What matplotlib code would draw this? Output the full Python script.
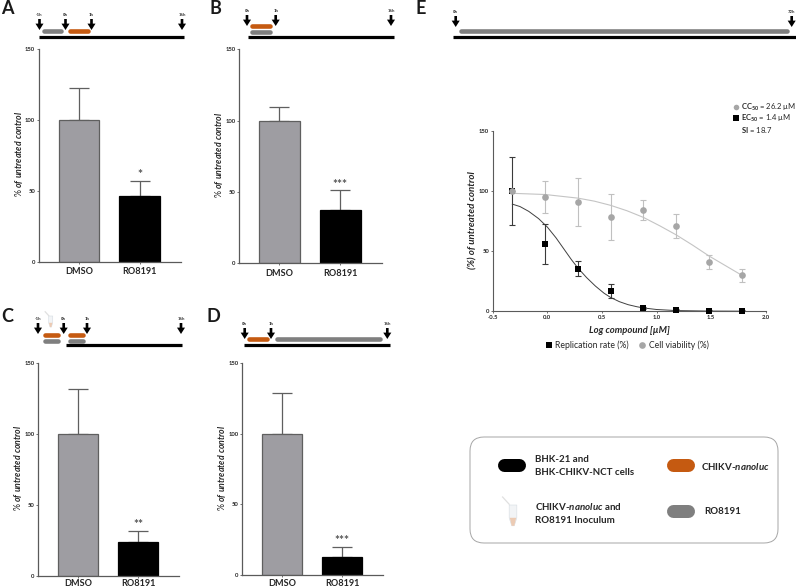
import numpy as np
from matplotlib import pyplot as plt
from matplotlib.lines import Line2D
from matplotlib.patches import FancyBboxPatch, Polygon

W = 796
H = 588

plt.rcParams['font.family'] = ['Lato', 'DejaVu Sans']
plt.rcParams['mathtext.fontset'] = 'custom'
plt.rcParams['mathtext.rm'] = 'Lato:bold'
plt.rcParams['mathtext.bf'] = 'Lato:bold'
plt.rcParams['mathtext.it'] = 'Lato:italic:bold'

# bar panels
groups = ['DMSO', 'RO8191']
bar_ticks = [0, 50, 100, 150]
values_a = [100, 46.5]
upper_a = [123, 57]
values_b = [100, 37.5]
upper_b = [109.5, 51]
values_c = [100, 24.5]
upper_c = [132, 32]
values_d = [100, 13]
upper_d = [129, 20]

# dose response panel
log_dose = [-0.32, -0.02, 0.28, 0.58, 0.88, 1.18, 1.48, 1.78]
replication = [100, 56, 35.5, 16.5, 2.5, 1.2, 0.5, 0.5]
replication_low = [72, 39, 29, 11, 1.5, 0.7, 0.3, 0.3]
replication_high = [128, 72.5, 42, 22.5, 3.5, 1.7, 0.7, 0.7]
viability = [100, 95, 91, 78, 84.5, 71, 41, 30]
viability_low = [100, 81.5, 71, 59, 76, 61, 35, 24.5]
viability_high = [100, 108.5, 111, 97.5, 92.5, 81, 46.5, 35.5]

fit_x_rep = [-0.32, -0.25, -0.17, -0.08, 0.0, 0.08, 0.15, 0.22, 0.28, 0.36, 0.44, 0.52, 0.58,
             0.66, 0.74, 0.82, 0.88, 1.0, 1.18, 1.48, 1.78]
fit_y_rep = [89, 87, 83, 77, 70, 61, 52, 43, 36, 28, 21, 15, 11.5, 8, 5.5, 3.8, 2.8, 1.5, 0.6, 0.2, 0.1]
fit_x_via = [-0.32, -0.02, 0.13, 0.28, 0.43, 0.58, 0.73, 0.88, 1.03, 1.18, 1.33, 1.48, 1.63, 1.78]
fit_y_via = [98, 97, 95.5, 94, 91.5, 88, 83.5, 78, 71, 63.5, 55, 46, 38, 30]

# timelines, in picture pixels: (x0, x1, y)
line_a = [(39, 184, 36.7, 'k')]
pills_a = [(42, 63, 31, 'grey'), (68, 90, 31, 'orange')]
arrows_a = [(39.5, 19, '-1h'), (65.5, 19, '0h'), (91.5, 19, '1h'), (182, 19, '16h')]

line_b = [(247.5, 393.5, 36.7, 'k')]
pills_b = [(250, 272.5, 25.7, 'orange'), (250, 272.5, 32, 'grey')]
arrows_b = [(247, 15, '0h'), (275.7, 15, '1h'), (391, 15, '16h')]

line_c = [(66, 181.7, 345, 'k')]
pills_c = [(42.5, 60, 335, 'orange'), (67.7, 85, 335, 'orange'), (42.5, 60, 340.8, 'grey'), (67.7, 85, 340.8, 'grey')]
arrows_c = [(38, 323, '-1h'), (63.7, 323, '0h'), (87, 323, '1h'), (181, 323, '16h')]

line_d = [(243.5, 389.7, 345, 'k')]
pills_d = [(247, 269.3, 339.3, 'orange'), (274.7, 382.7, 339.3, 'grey')]
arrows_d = [(244.7, 328, '0h'), (271, 328, '1h'), (387.3, 328, '16h')]

line_e = [(452.5, 796, 36.7, 'k')]
pills_e = [(459, 789.3, 31, 'grey')]
arrows_e = [(455.7, 16, '0h'), (791.7, 16, '72h')]

COLORS = {'k': '#000000', 'grey': '#7f7f7f', 'orange': '#c55a11'}
AXIS = '#5a5a5a'
MARKER_GREY = '#a6a6a6'


def px_axes(fig, left, top, right, bottom):
    return fig.add_axes([left / W, 1 - bottom / H, (right - left) / W, (bottom - top) / H])


def pill(ax, x0, x1, y, color, h=4.6):
    # round capped line, the cap adds half a width on both ends
    ax.plot([x0 + h / 2, x1 - h / 2], [y, y], color=COLORS[color], lw=h * 0.72,
            solid_capstyle='round')


def arrow(ax, x, y, label):
    ax.annotate('', xy=(x, y + 11), xytext=(x, y),
                arrowprops=dict(width=1.9, headwidth=5.8, headlength=4.6, color='k', lw=0, shrink=0))
    ax.text(x, y - 3.6, label, fontsize=3.1, fontweight='bold', ha='center', va='center', color='#333333')


def timeline(ax, lines, pills, arrows):
    for x0, x1, y, c in lines:
        ax.plot([x0, x1], [y, y], color=COLORS[c], lw=2.3, solid_capstyle='butt')
    for x0, x1, y, c in pills:
        pill(ax, x0, x1, y, c)
    for x, y, label in arrows:
        arrow(ax, x, y, label)


def tube(ax, x, y, scale=1.0):
    # small inoculum tube icon
    s = scale
    ax.add_patch(Polygon([(x - 2.4 * s, y), (x + 2.4 * s, y), (x + 2.4 * s, y + 8 * s), (x + 0.8 * s, y + 13 * s),
                          (x - 0.8 * s, y + 13 * s), (x - 2.4 * s, y + 8 * s)],
                         closed=True, fc='#f2f4f6', ec='#d5dce2', lw=0.4))
    ax.add_patch(Polygon([(x - 2 * s, y + 8 * s), (x + 2 * s, y + 8 * s), (x + 0.8 * s, y + 13 * s),
                          (x - 0.8 * s, y + 13 * s)], closed=True, fc='#eccbb4', ec='none'))
    ax.plot([x - 2.4 * s, x - 6.5 * s], [y - 0.5 * s, y - 5 * s], color='#e0e0e0', lw=0.9)


def bar_panel(fig, box, values, upper, stars, ylabel_pos, xpad=2.5):
    ax = px_axes(fig, *box)
    colors = ['#9e9da2', '#000000']
    edges = ['#5f5f5f', '#000000']
    errs = [u - v for u, v in zip(upper, values)]
    ax.bar([0, 1], values, width=0.67, color=colors, edgecolor=edges, linewidth=0.9, zorder=2)
    ax.errorbar([0, 1], values, yerr=[[0, 0], errs], fmt='none', ecolor='#5f5f5f', elinewidth=0.9,
                capsize=7.2, capthick=0.9, zorder=1)
    ax.set_xlim(-0.67, 1.68)
    ax.set_ylim(0, 150)
    ax.set_yticks(bar_ticks)
    ax.set_xticks([0, 1])
    ax.set_xticklabels(groups, fontsize=6.6, fontweight='bold', color='#262626')
    ax.tick_params(axis='y', labelsize=4.2, length=1.6, width=0.6, pad=0.8, color=AXIS, labelcolor='#262626')
    ax.tick_params(axis='x', length=1.6, width=0.6, pad=xpad, color=AXIS)
    for lab in ax.get_yticklabels():
        lab.set_fontweight('bold')
    for s in ['top', 'right']:
        ax.spines[s].set_visible(False)
    for s in ['left', 'bottom']:
        ax.spines[s].set_color(AXIS)
        ax.spines[s].set_linewidth(0.9)
    ax.text(1, upper[1] + 0.5, stars, fontsize=8.5, fontweight='bold', ha='center', va='bottom',
            color='#555555', linespacing=0.5, clip_on=False)
    fig.text(ylabel_pos[0] / W, 1 - ylabel_pos[1] / H, r'% $\mathit{of\ untreated\ control}$', fontsize=6.3,
             rotation=90, ha='center', va='center', color='#262626')
    return ax


def dose_panel(fig):
    ax = px_axes(fig, 492.7, 130.7, 765.7, 311.3)
    dc = '#3a3a3a'
    ax.plot(fit_x_via, fit_y_via, color='#c4c4c4', lw=0.8, zorder=1)
    ax.plot(fit_x_rep, fit_y_rep, color='#404040', lw=0.7, zorder=1)
    v = np.array(viability)
    r = np.array(replication)
    ax.errorbar(log_dose, v, yerr=[v - np.array(viability_low), np.array(viability_high) - v], fmt='none',
                ecolor='#c0c0c0', elinewidth=0.8, capsize=2.4, capthick=0.8, zorder=2)
    ax.errorbar(log_dose, r, yerr=[r - np.array(replication_low), np.array(replication_high) - r], fmt='none',
                ecolor=dc, elinewidth=0.8, capsize=2.4, capthick=0.8, zorder=2)
    ax.plot(log_dose, r, 's', color='k', ms=5, mew=0, zorder=3, clip_on=False)
    ax.plot(log_dose, v, 'o', color=MARKER_GREY, ms=4.8, mew=0, zorder=4, clip_on=False)
    ax.set_xlim(-0.5, 2.0)
    ax.set_ylim(0, 150)
    ax.set_xticks([-0.5, 0.0, 0.5, 1.0, 1.5, 2.0])
    ax.set_xticklabels(['-0.5', '0.0', '0.5', '1.0', '1.5', '2.0'])
    ax.set_yticks(bar_ticks)
    ax.tick_params(labelsize=4.2, length=1.5, width=0.6, pad=1, color=AXIS, labelcolor='#262626')
    for lab in ax.get_xticklabels() + ax.get_yticklabels():
        lab.set_fontweight('bold')
    for s in ['top', 'right']:
        ax.spines[s].set_visible(False)
    for s in ['left', 'bottom']:
        ax.spines[s].set_color(AXIS)
        ax.spines[s].set_linewidth(0.8)
    fig.text(472.7 / W, 1 - 220 / H, '(%) of untreated control', fontsize=7, fontweight='bold', style='italic',
             rotation=90, ha='center', va='center', color='#262626')
    fig.text(629 / W, 1 - 330.7 / H, 'Log compound [µM]', fontsize=6.8, fontweight='bold', style='italic',
             ha='center', va='center', color='#262626')

    sq = Line2D([], [], marker='s', color='k', ls='none', ms=5, mew=0)
    ci = Line2D([], [], marker='o', color=MARKER_GREY, ls='none', ms=4.8, mew=0)
    ax.legend([sq, ci], ['Replication rate (%)', 'Cell viability (%)'], ncol=2, frameon=False,
              fontsize=6.2, loc='center', bbox_to_anchor=(627 / W, 1 - 345.7 / H),
              bbox_transform=fig.transFigure, handlelength=0.8, handletextpad=0.35, columnspacing=1.2,
              borderpad=0, labelcolor='#262626')


def stats_key(ax):
    # CC50 / EC50 / SI block above the dose response panel
    ax.plot(735.7, 107, 'o', color=MARKER_GREY, ms=4, mew=0)
    ax.plot(735.7, 118, 's', color='k', ms=4, mew=0)
    kw = dict(fontsize=5.5, va='center', color='#262626')
    ax.text(741, 107, r'$\mathbf{CC_{50}}$ = 26.2 µM', **kw)
    ax.text(741, 118.5, r'$\mathbf{EC_{50}}$ = 1.4 µM', **kw)
    ax.text(741, 130, r'$\mathbf{SI}$ = 18.7', **kw)


def key_box(ax):
    ax.add_patch(FancyBboxPatch((482, 449), 284, 82, boxstyle='round,pad=12,rounding_size=14', fc='white',
                                ec='#a6a6a6', lw=0.7))
    pill(ax, 497.7, 525.7, 465, 'k', h=13)
    pill(ax, 666.7, 694.3, 465, 'orange', h=13)
    pill(ax, 666.7, 694.3, 511, 'grey', h=13)
    tube(ax, 513, 505, scale=1.6)
    kw = dict(fontsize=7, fontweight='bold', va='center', color='#262626')
    ax.text(535, 459, 'BHK-21 and', **kw)
    ax.text(535, 472.7, 'BHK-CHIKV-NCT cells', **kw)
    ax.text(535, 507, r'CHIKV-$\mathit{nanoluc}$ and', **kw)
    ax.text(535, 520.7, 'RO8191 Inoculum', **kw)
    ax.text(700.7, 466, r'CHIKV-$\mathit{nanoluc}$', **kw)
    ax.text(704, 512, 'RO8191', **kw)


fig = plt.figure(figsize=(W / 100, H / 100), dpi=100)

over = fig.add_axes([0, 0, 1, 1], zorder=5)
over.set_xlim(0, W)
over.set_ylim(H, 0)
over.axis('off')
over.patch.set_alpha(0)

key_box(over)
stats_key(over)
timeline(over, line_a, pills_a, arrows_a)
timeline(over, line_b, pills_b, arrows_b)
timeline(over, line_c, pills_c, arrows_c)
timeline(over, line_d, pills_d, arrows_d)
timeline(over, line_e, pills_e, arrows_e)
tube(over, 50.7, 316, scale=0.85)
over.set_xlim(0, W)
over.set_ylim(H, 0)

for letter, x, y in [('A', 7, 9), ('B', 215, 8), ('C', 7, 316), ('D', 213.5, 316), ('E', 420.5, 8)]:
    over.text(x, y, letter, fontsize=13, fontweight='bold', ha='center', va='center', color='#1a1a1a')

bar_panel(fig, (38.5, 49.3, 181, 261.7), values_a, upper_a, '*', (19, 154))
bar_panel(fig, (238.7, 49.3, 381.7, 263), values_b, upper_b, '***', (219, 155))
bar_panel(fig, (37.7, 363.3, 179, 576.3), values_c, upper_c, '**', (18, 468), xpad=0.3)
bar_panel(fig, (241.7, 363.3, 383, 575), values_d, upper_d, '***', (221.7, 468), xpad=1.0)
dose_panel(fig)

fig.savefig('out.png', dpi=100)
